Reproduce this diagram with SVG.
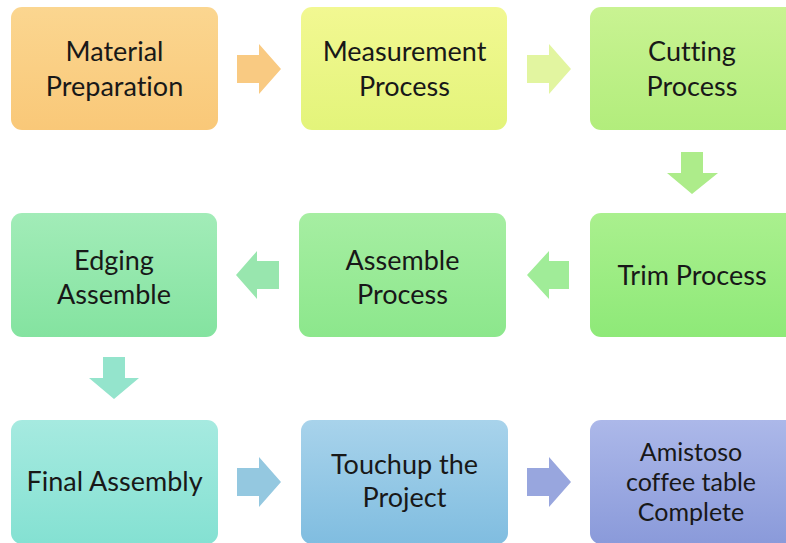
<svg xmlns="http://www.w3.org/2000/svg" width="786" height="543" viewBox="0 0 786 543">
<defs>
<linearGradient id="g1" x1="0" y1="0" x2="0" y2="1"><stop offset="0" stop-color="#FBD690"/><stop offset="1" stop-color="#F9C878"/></linearGradient>
<linearGradient id="g2" x1="0" y1="0" x2="0" y2="1"><stop offset="0" stop-color="#F2F892"/><stop offset="1" stop-color="#E3F47A"/></linearGradient>
<linearGradient id="g3" x1="0" y1="0" x2="0" y2="1"><stop offset="0" stop-color="#C9F392"/><stop offset="1" stop-color="#B2ED7C"/></linearGradient>
<linearGradient id="g4" x1="0" y1="0" x2="0" y2="1"><stop offset="0" stop-color="#AAF08E"/><stop offset="1" stop-color="#8EE978"/></linearGradient>
<linearGradient id="g5" x1="0" y1="0" x2="0" y2="1"><stop offset="0" stop-color="#A6EEA2"/><stop offset="1" stop-color="#8CE78C"/></linearGradient>
<linearGradient id="g6" x1="0" y1="0" x2="0" y2="1"><stop offset="0" stop-color="#A2ECB8"/><stop offset="1" stop-color="#84E3A0"/></linearGradient>
<linearGradient id="g7" x1="0" y1="0" x2="0" y2="1"><stop offset="0" stop-color="#A6EAE0"/><stop offset="1" stop-color="#84E1D2"/></linearGradient>
<linearGradient id="g8" x1="0" y1="0" x2="0" y2="1"><stop offset="0" stop-color="#A8D3EB"/><stop offset="1" stop-color="#80BDE0"/></linearGradient>
<linearGradient id="g9" x1="0" y1="0" x2="0" y2="1"><stop offset="0" stop-color="#ACB8E9"/><stop offset="1" stop-color="#8A9ADA"/></linearGradient>
</defs>
<style>
.box{stroke:none}
.t{font-family:Lato,"Open Sans","Liberation Sans",sans-serif;font-size:27px;fill:#181818;text-anchor:middle;font-variant-ligatures:none}
.s{font-size:25px}
</style>
<rect width="786" height="543" fill="#ffffff"/>
<g id="connectors">
<polygon points="237,55 259,55 259,44 281,69 259,94 259,83 237,83" fill="#F9CA82"/>
<polygon points="527,55 549,55 549,44 571,69 549,94 549,83 527,83" fill="#E2F5A0"/>
<polygon points="681,152 703,152 703,173 718,173 692,194 667,173 681,173" fill="#ADEC8A"/>
<polygon points="569,261 549,261 549,251 527,275 549,299 549,289 569,289" fill="#A0EC98"/>
<polygon points="279,261 257,261 257,251 236,275 257,299 257,289 279,289" fill="#98E6AE"/>
<polygon points="103,357 125,357 125,378 139,378 114,399 89,378 103,378" fill="#94E4CC"/>
<polygon points="237,468 259,468 259,457 281,482 259,507 259,496 237,496" fill="#94C8E0"/>
<polygon points="527,468 549,468 549,457 571,482 549,507 549,496 527,496" fill="#98A6DE"/>
</g>
<g id="n1"><rect class="box" x="11" y="7" width="207" height="123" rx="11" fill="url(#g1)"/><text class="t" x="114.5" y="61">Material</text><text class="t" x="114.5" y="96">Preparation</text></g>
<g id="n2"><rect class="box" x="301" y="7" width="206" height="123" rx="11" fill="url(#g2)"/><text class="t" x="404.5" y="61">Measurement</text><text class="t" x="404.5" y="96">Process</text></g>
<g id="n3"><rect class="box" x="590" y="7" width="207" height="123" rx="11" fill="url(#g3)"/><text class="t" x="692" y="61">Cutting</text><text class="t" x="692" y="96">Process</text></g>
<g id="n4"><rect class="box" x="590" y="213" width="207" height="124" rx="11" fill="url(#g4)"/><text class="t" x="692" y="285">Trim Process</text></g>
<g id="n5"><rect class="box" x="299" y="213" width="207" height="124" rx="11" fill="url(#g5)"/><text class="t" x="402.5" y="270">Assemble</text><text class="t" x="402.5" y="304">Process</text></g>
<g id="n6"><rect class="box" x="11" y="213" width="206" height="124" rx="11" fill="url(#g6)"/><text class="t" x="114" y="270">Edging</text><text class="t" x="114" y="304">Assemble</text></g>
<g id="n7"><rect class="box" x="11" y="420" width="207" height="124" rx="11" fill="url(#g7)"/><text class="t" x="114.5" y="491">Final Assembly</text></g>
<g id="n8"><rect class="box" x="301" y="420" width="207" height="124" rx="11" fill="url(#g8)"/><text class="t" x="404.5" y="474">Touchup the</text><text class="t" x="404.5" y="507">Project</text></g>
<g id="n9"><rect class="box" x="590" y="420" width="207" height="124" rx="11" fill="url(#g9)"/><text class="t s" x="691" y="461">Amistoso</text><text class="t s" x="691" y="491">coffee table</text><text class="t s" x="691" y="521">Complete</text></g>
</svg>
